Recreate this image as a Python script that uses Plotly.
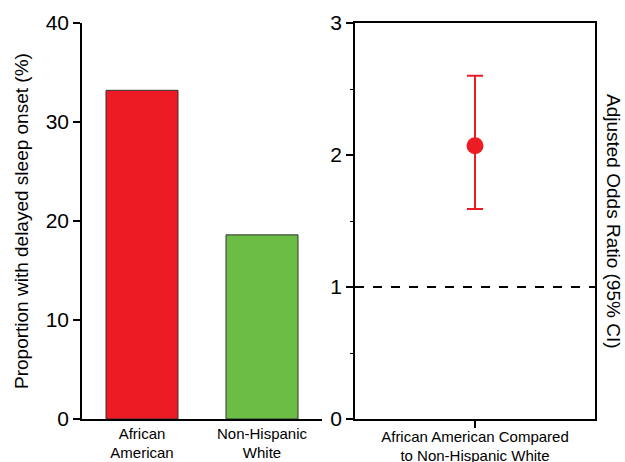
import plotly.graph_objects as go

# Proportion with delayed sleep onset by group
groups = ["African<br>American", "Non-Hispanic<br>White"]
proportions = [33.2, 18.6]
bar_colors = ["#ED1C24", "#6BBD45"]

# Adjusted odds ratio with 95% confidence interval
comparison = ["African American Compared<br>to Non-Hispanic White"]
odds_ratio = [2.07]
ci_low = [1.59]
ci_high = [2.60]

W, H = 625, 462
FONT = "Liberation Sans, Arial, sans-serif"


def px_x(p):
    return p / W


def px_y(p):
    return 1 - p / H


fig = go.Figure()

fig.add_trace(go.Bar(
    x=[0, 1], y=proportions, width=0.6,
    marker=dict(color=bar_colors, line=dict(color="#333333", width=1)),
    xaxis="x", yaxis="y", showlegend=False,
))

fig.add_trace(go.Scatter(
    x=[0], y=odds_ratio, mode="markers",
    marker=dict(color="#ED1C24", size=17),
    error_y=dict(type="data", symmetric=False,
                 array=[h - o for h, o in zip(ci_high, odds_ratio)],
                 arrayminus=[o - l for l, o in zip(ci_low, odds_ratio)],
                 color="#ED1C24", thickness=2, width=8),
    xaxis="x2", yaxis="y2", showlegend=False,
))

# Reference line at OR = 1
fig.add_shape(type="line", xref="x2 domain", yref="y2", x0=0, x1=1, y0=1, y1=1,
              line=dict(color="black", width=2, dash="dash"))

y_dom = [px_y(419), px_y(23)]

fig.update_layout(
    width=W, height=H,
    margin=dict(l=0, r=0, t=0, b=0, autoexpand=False),
    plot_bgcolor="white", paper_bgcolor="white",
    font=dict(family=FONT, color="black"),
    xaxis=dict(domain=[px_x(82), px_x(322)], range=[-0.5, 1.5], automargin=False,
               tickvals=[0, 1], ticktext=groups, ticks="", showline=True,
               linecolor="black", linewidth=1.5, showgrid=False, zeroline=False,
               tickfont=dict(size=15, family=FONT), fixedrange=True),
    yaxis=dict(domain=y_dom, range=[0, 40], tickvals=[0, 10, 20, 30, 40],
               automargin=False,
               ticks="outside", ticklen=7, tickwidth=1.5, tickcolor="black",
               showline=True, linecolor="black", linewidth=1.5, showgrid=False,
               zeroline=False, tickfont=dict(size=21, family=FONT)),
    xaxis2=dict(domain=[px_x(355), px_x(595)], range=[-1, 1], anchor="y2",
                automargin=False, ticklabelstandoff=-4,
                tickvals=[0], ticktext=comparison, ticks="outside", ticklen=7,
                tickwidth=1.5, tickcolor="black", showline=True, mirror=True,
                linecolor="black", linewidth=1.5, showgrid=False, zeroline=False,
                tickfont=dict(size=15, family=FONT)),
    yaxis2=dict(domain=y_dom, range=[0, 3], anchor="x2", automargin=False,
                tickvals=[0, 1, 2, 3], ticks="outside", ticklen=7, tickwidth=1.5,
                tickcolor="black", showline=True, mirror=True, linecolor="black",
                linewidth=1.5, showgrid=False, zeroline=False,
                tickfont=dict(size=21, family=FONT),
                minor=dict(tickvals=[0.5, 1.5, 2.5], ticks="outside", ticklen=3,
                           tickwidth=1, tickcolor="black")),
    annotations=[
        dict(text="Proportion with delayed sleep onset (%)", textangle=-90,
             xref="paper", yref="paper", x=px_x(22), y=(y_dom[0] + y_dom[1]) / 2,
             showarrow=False, font=dict(size=19, family=FONT),
             xanchor="center", yanchor="middle"),
        dict(text="Adjusted Odds Ratio (95% CI)", textangle=90,
             xref="paper", yref="paper", x=px_x(613), y=(y_dom[0] + y_dom[1]) / 2,
             showarrow=False, font=dict(size=19, family=FONT),
             xanchor="center", yanchor="middle"),
    ],
)

fig.write_html("out.html")
